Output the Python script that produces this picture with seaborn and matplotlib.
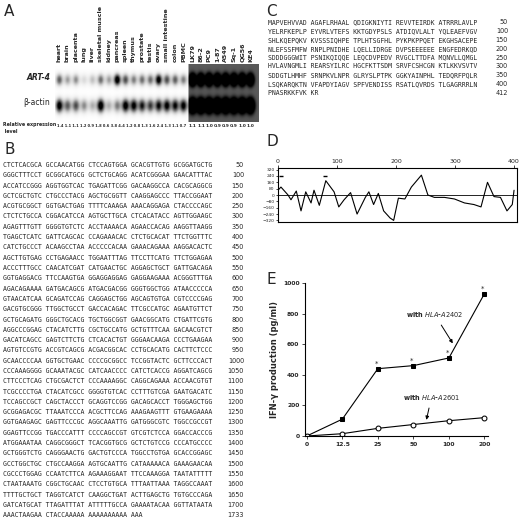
import numpy as np
import pandas as pd
import matplotlib
matplotlib.use("Agg")
import matplotlib.pyplot as plt
import seaborn as sns

sns.set_theme(style="white")
plt.rcParams['font.family'] = ['DejaVu Sans']

# ---------------- data ----------------
tissues = ["heart", "brain", "placenta", "lung", "liver", "skeletal muscle", "kidney",
           "pancreas", "spleen", "thymus", "prostate", "testis", "ovary",
           "small intestine", "colon", "PBMC"]
cell_lines = ["LK79", "86-2", "PC9", "1-87", "A549", "Sq-1", "QG56", "KE4"]
art4_tissue = [0.55, 0.35, 0.4, 0.15, 0.25, 0.5, 0.35, 0.95, 0.6, 0.45, 0.5, 0.5, 0.9, 0.6, 0.55, 0.45]
actin_tissue = [0.95, 0.6, 0.65, 0.45, 0.35, 1.0, 0.35, 0.5, 0.95, 0.9, 0.8, 0.7, 0.85, 0.9, 0.85, 0.9]
art4_cell = [0.9, 0.85, 0.9, 0.85, 0.85, 0.85, 0.9, 0.85]
actin_cell = [0.95, 0.95, 0.95, 0.95, 0.95, 0.95, 0.95, 0.95]
rel_expr_text = "1.4 1.1 1.1 1.2 0.9 1.8 0.6 3.8 4.4 1.2 0.8 1.3 1.6 2.4 1.3 1.1 0.7"
rel_expr_cell = ["1.1", "1.1", "1.0", "0.9", "0.9", "0.9", "1.0", "1.0"]

dna_lines = [
    "CTCTCACGCA GCCAACATGG CTCCAGTGGA GCACGTTGTG GCGGATGCTG",
    "GGGCTTTCCT GCGGCATGCG GCTCTGCAGG ACATCGGGAA GAACATTTAC",
    "ACCATCCGGG AGGTGGTCAC TGAGATTCGG GACAAGGCCA CACGCAGGCG",
    "GCTCGCTGTC CTGCCCTACG AGCTGCGGTT CAAGGAGCCC TTACCGGAAT",
    "ACGTGCGGCT GGTGACTGAG TTTTCAAAGA AAACAGGAGA CTACCCCAGC",
    "CTCTCTGCCA CGGACATCCA AGTGCTTGCA CTCACATACC AGTTGGAAGC",
    "AGAGTTTGTT GGGGTGTCTC ACCTAAAACA AGAACCACAG AAGGTTAAGG",
    "TGAGCTCATC GATTCAGCAC CCAGAAACAC CTCTGCACAT TTCTGGTTTC",
    "CATCTGCCCT ACAAGCCTAA ACCCCCACAA GAAACAGAAA AAGGACACTC",
    "AGCTTGTGAG CCTGAGAACC TGGAATTTAG TTCCTTCATG TTCTGGAGAA",
    "ACCCTTTGCC CAACATCGAT CATGAACTGC AGGAGCTGCT GATTGACAGA",
    "GGTGAGGACG TTCCAAGTGA GGAGGAGGAG GAGGAAGAAA ACGGGTTTGA",
    "AGACAGAAAA GATGACAGCG ATGACGACGG GGGTGGCTGG ATAACCCCCA",
    "GTAACATCAA GCAGATCCAG CAGGAGCTGG AGCAGTGTGA CGTCCCCGAG",
    "GACGTGCGGG TTGGCTGCCT GACCACAGAC TTCGCCATGC AGAATGTTCT",
    "GCTGCAGATG GGGCTGCACG TGCTGGCGGT GAACGGCATG CTGATTCGTG",
    "AGGCCCGGAG CTACATCTTG CGCTGCCATG GCTGTTTCAA GACAACGTCT",
    "GACATCAGCC GAGTCTTCTG CTCACACTGT GGGAACAAGA CCCTGAAGAA",
    "AGTGTCCGTG ACCGTCAGCG ACGACGGCAC CCTGCACATG CACTTCTCCC",
    "GCAACCCCAA GGTGCTGAAC CCCCGCGGCC TCCGGTACTC GCTTCCCACT",
    "CCCAAAGGGG GCAAATACGC CATCAACCCC CATCTCACCG AGGATCAGCG",
    "CTTCCCTCAG CTGCGACTCT CCCAAAAGGC CAGGCAGAAA ACCAACGTGT",
    "TCGCCCCTGA CTACATCGCC GGGGTGTCAC CCTTTGTCGA GAATGACATC",
    "TCCAGCCGCT CAGCTACCCT GCAGGTCCGG GACAGCACCT TGGGAGCTGG",
    "GCGGAGACGC TTAAATCCCA ACGCTTCCAG AAAGAAGTTT GTGAAGAAAA",
    "GGTGAAGAGC GAGTTCCCGC AGGCAAATTG GATGGGCGTC TGGCCGCCGT",
    "GGAGTTCCGG TGACCCATTT CCCCAGCCGT GTCGTCTCCA GGACCACCCG",
    "ATGGAAATAA CAGGCGGGCT TCACGGTGCG GCTCTGTCCG CCCATGCCCC",
    "GCTGGGTCTG CAGGGAACTG GACTGTCCCA TGGCCTGTGA GCACCGGAGC",
    "GCCTGGCTGC CTGCCAAGGA AGTGCAATTG CATAAAAACA GAAAGAACAA",
    "CGCCCTGGAG CCAATCTTCA AGAAAGGAAT TTCCAAAGGA TAATATTTTT",
    "CTAATAAATG CGGCTGCAAC CTCCTGTGCA TTTAATTAAA TAGGCCAAAT",
    "TTTTGCTGCT TAGGTCATCT CAAGGCTGAT ACTTGAGCTG TGTGCCCAGA",
    "GATCATGCAT TTAGATTTAT ATTTTTGCCA GAAAATACAA GGTTATAATA",
    "AAACTAAGAA CTACCAAAAA AAAAAAAAAA AAA",
]
dna_numbers = [str(50 * (i + 1)) for i in range(34)] + ["1733"]

prot_lines = [
    "MAPVEHVVAD AGAFLRHAAL QDIGKNIYTI REVVTEIRDK ATRRRLAVLP",
    "YELRFKEPLP EYVRLVTEFS KKTGDYPSLS ATDIQVLALT YQLEAEFVGV",
    "SHLKQEPQKV KVSSSIQHPE TPLHTSGFHL PYKPKPPQET EKGHSACEPE",
    "NLEFSSFMFW RNPLPNIDHE LQELLIDRGE DVPSEEEEEE ENGFEDRKQD",
    "SDDDGGGWIT PSNIKQIQQE LEQCDVPEDV RVGCLTTDFA MQNVLLQMGL",
    "HVLAVNGMLI REARSYILRC HGCFKTTSDM SRVFCSHCGN KTLKKVSVTV",
    "SDDGTLHMHF SRNPKVLNPR GLRYSLPTPK GGKYAINPHL TEDQRFPQLR",
    "LSQKARQKTN VFAPDYIAGV SPFVENDISS RSATLQVRDS TLGAGRRRLN",
    "PNASRKKFVK KR",
]
prot_numbers = ["50", "100", "150", "200", "250", "300", "350", "400", "412"]

hyd_pos = [0, 5, 17, 22, 31, 39, 47, 56, 61, 70, 81, 95, 103, 112, 123, 134, 148, 154,
           162, 170, 179, 190, 196, 204, 215, 226, 243, 254, 265, 282, 299, 316, 332,
           344, 355, 366, 377, 388, 397, 400]
hyd_val = [60, 100, 0, -60, 50, -200, 40, -100, 60, -130, 180, 40, -150, -60, 30, -240,
           -30, 40, -120, 20, -200, -290, -320, -40, -50, 100, 250, 0, -30, -30, -50,
           -100, -120, -150, 160, -20, -30, -200, -120, 60]
hyd_marks = [5, 80]

conc = ["0", "12.5", "25", "50", "100", "200"]
a2402 = [0, 110, 440, 460, 510, 930]
a2601 = [0, 15, 50, 75, 100, 120]

# ---------------- figure ----------------
W, H = 520, 521
fig = plt.figure(figsize=(W / 100, H / 100), dpi=100)

def ax_px(x0, y0, x1, y1):
    return fig.add_axes([x0 / W, 1 - y1 / H, (x1 - x0) / W, (y1 - y0) / H])

def ftext(x, y, s, **kw):
    fig.text(x / W, 1 - y / H, s, **kw)

for lab, (x, y) in zip("ABCDE", [(4, 12), (4, 150), (266, 12), (266, 142), (266, 280)]):
    ftext(x, y, lab, fontsize=11, va="center", ha="left")

# ---- Panel A: gel ----
gax = ax_px(55, 64, 259, 122)
ncols, nrows = 408, 116
xx = np.linspace(0, 24.6, ncols)[None, :]
yy = np.linspace(0, 1, nrows)[:, None]
img = np.zeros((nrows, ncols))
centers = [i + 0.5 for i in range(16)] + [16.6 + i * 1.0 for i in range(8)]
img += np.where(xx >= 16.1, 0.72, 0.0) * np.ones_like(yy)
img += np.where(xx < 16.0, 0.06, 0.0) * np.exp(-((yy - 0.27) / 0.12) ** 2)
all_art = art4_tissue + art4_cell
all_act = actin_tissue + actin_cell
for c, a, b in zip(centers, all_art, all_act):
    img += 1.2 * a * np.exp(-((xx - c) / 0.4) ** 2) * np.exp(-((yy - 0.27) / 0.1) ** 2)
    img += 1.2 * b * np.exp(-((xx - c) / 0.45) ** 2) * np.exp(-((yy - 0.72) / 0.12) ** 2)
img = np.clip(img, 0, 1)
gax.imshow(img, cmap="Greys", vmin=0, vmax=1.0, aspect="auto",
           extent=[0, 24.6, 1, 0], interpolation="bilinear")
gax.set_xlim(0, 24.6)
gax.set_ylim(1, 0)
gax.axis("off")
for c, name in zip(centers, tissues + cell_lines):
    gax.text(c, -0.04, name, rotation=90, ha="center", va="bottom",
             fontsize=4.6, fontweight="bold")
ftext(50, 78, "ART-4", fontsize=5.5, fontweight="bold", style="italic", ha="right", va="center")
ftext(50, 103, "β-actin", fontsize=5.5, ha="right", va="center")
ftext(3, 128, "Relative expression\n level", fontsize=3.4, fontweight="bold", va="center", linespacing=1.6)
ftext(57, 126, rel_expr_text, fontsize=2.6, fontweight="bold", va="center")
for c, v in zip(centers[16:], rel_expr_cell):
    gax.text(c, 1.07, v, ha="center", va="center", fontsize=3.2, fontweight="bold")

# ---- Panel B: DNA sequence ----
for i, (line, num) in enumerate(zip(dna_lines, dna_numbers)):
    y = 165 + i * 10.3
    ftext(3, y, line, fontsize=4.7, family="DejaVu Sans Mono", va="center")
    ftext(244, y, num, fontsize=4.7, va="center", ha="right")

# ---- Panel C: protein sequence ----
for i, (line, num) in enumerate(zip(prot_lines, prot_numbers)):
    y = 22 + i * 8.9
    ftext(268, y, line, fontsize=4.7, family="DejaVu Sans Mono", va="center")
    ftext(508, y, num, fontsize=4.7, va="center", ha="right")

# ---- Panel D: hydrophobicity ----
dax = ax_px(278, 168, 517, 222)
dfd = pd.DataFrame({"pos": hyd_pos, "val": hyd_val})
sns.lineplot(data=dfd, x="pos", y="val", ax=dax, color="black", lw=0.8)
dax.axhline(0, color="black", lw=0.6)
dax.hlines([240] * len(hyd_marks), [m - 3 for m in hyd_marks], [m + 3 for m in hyd_marks],
           color="black", lw=1)
dax.set_xlim(0, 405)
dax.set_ylim(-340, 340)
dax.set_yticks([320, 240, 160, 80, 0, -80, -160, -240, -320])
dax.set_xticks([0, 100, 200, 300, 400])
dax.xaxis.tick_top()
dax.tick_params(axis="x", labelsize=4.5, length=2, pad=1, width=0.6)
dax.tick_params(axis="y", labelsize=3.2, length=1.5, pad=1, left=True, width=0.6)
dax.tick_params(axis="x", top=True)
dax.set_xlabel("")
dax.set_ylabel("")
for s in dax.spines.values():
    s.set_linewidth(0.8)
    s.set_color("black")

# ---- Panel E: IFN-gamma ----
eax = ax_px(305, 283, 488, 436)
xi = list(range(len(conc)))
dfe = pd.DataFrame({"x": xi * 2, "y": a2402 + a2601,
                    "hla": ["A2402"] * len(xi) + ["A2601"] * len(xi)})
sns.lineplot(data=dfe[dfe.hla == "A2402"], x="x", y="y", ax=eax, color="black", lw=0.8,
             marker="s", markersize=3.5, markerfacecolor="black", markeredgecolor="black")
sns.lineplot(data=dfe[dfe.hla == "A2601"], x="x", y="y", ax=eax, color="black", lw=0.8,
             marker="o", markersize=3.5, markerfacecolor="white", markeredgecolor="black")
for x, y in zip(xi[2:], a2402[2:]):
    eax.text(x - 0.05, y + 12, "*", fontsize=5, ha="center", va="bottom")
eax.set_xlim(-0.05, 5.1)
eax.set_ylim(0, 1000)
eax.set_xticks(xi)
eax.set_xticklabels(conc)
eax.set_yticks([0, 200, 400, 600, 800, 1000])
eax.tick_params(labelsize=4.3, length=2, pad=2, bottom=True, left=True, width=0.6)
for t in eax.get_xticklabels() + eax.get_yticklabels():
    t.set_fontweight("bold")
eax.set_xlabel("")
eax.set_ylabel("IFN-γ production (pg/ml)", fontsize=6, fontweight="bold", labelpad=3)
eax.spines["top"].set_visible(False)
eax.spines["right"].set_visible(False)
for s in ("left", "bottom"):
    eax.spines[s].set_linewidth(0.8)
    eax.spines[s].set_color("black")
eax.annotate("with $\\it{HLA}$-$\\it{A2402}$", xy=(4.15, 590), xytext=(2.8, 775),
             fontsize=4.8, fontweight="bold",
             arrowprops=dict(arrowstyle="-|>", lw=0.7, color="black", mutation_scale=5))
eax.annotate("with $\\it{HLA}$-$\\it{A2601}$", xy=(3.35, 88), xytext=(2.7, 235),
             fontsize=4.8, fontweight="bold",
             arrowprops=dict(arrowstyle="-|>", lw=0.7, color="black", mutation_scale=5))

fig.savefig("out.png", dpi=100)
